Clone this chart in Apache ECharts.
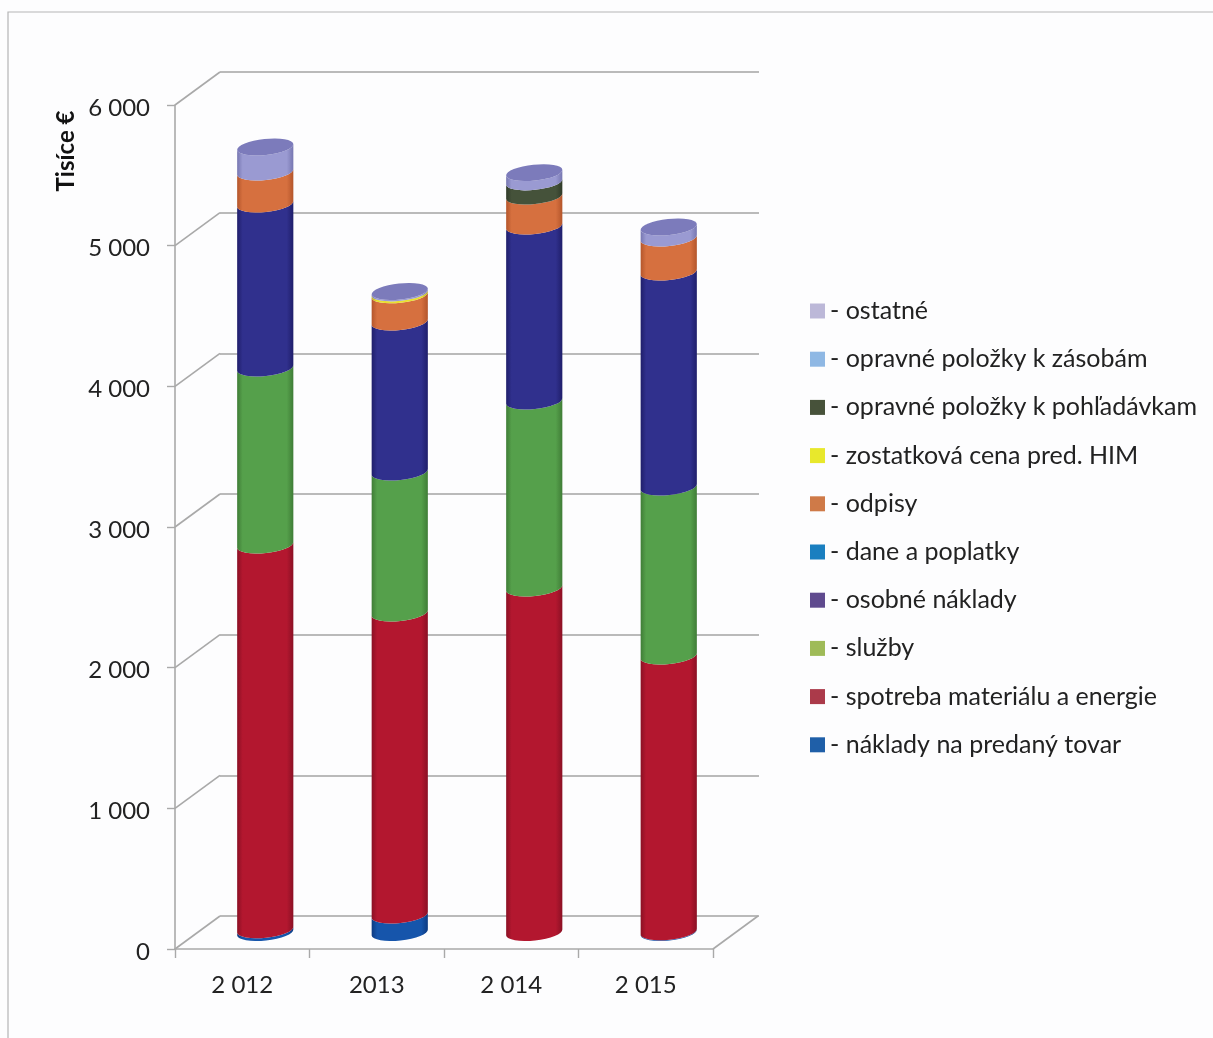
<!DOCTYPE html>
<html><head><meta charset="utf-8">
<style>html,body{margin:0;padding:0;background:#fdfdfe}#c{width:1213px;height:1038px}</style>
<script src="https://cdn.jsdelivr.net/npm/echarts@6/dist/echarts.min.js"></script>
</head><body><div id="c"></div>
<script>
// Data (thousand EUR)
const categories = ['2 012', '2013', '2 014', '2 015'];
const yTicks = [0, 1000, 2000, 3000, 4000, 5000, 6000];
const nakladyTovar = [20, 124, 0, 5];
const spotreba = [2735, 2147, 2449, 1961];
const sluzby = [1258, 1003, 1329, 1201];
const osobne = [1166, 1066, 1244, 1528];
const dane = [0, 0, 0, 0];
const odpisy = [227, 193, 213, 242];
const zostatkova = [0, 14, 0, 0];
const pohladavky = [0, 0, 101, 0];
const zasoby = [0, 0, 0, 0];
const ostatne = [178, 10, 66, 78];

const seriesNames = ['- náklady na predaný tovar', '- spotreba materiálu a energie', '- služby', '- osobné náklady', '- dane a poplatky', '- odpisy', '- zostatková cena pred. HIM', '- opravné položky k pohľadávkam', '- opravné položky k zásobám', '- ostatné'];
const seriesValues = [nakladyTovar, spotreba, sluzby, osobne, dane, odpisy, zostatkova, pohladavky, zasoby, ostatne];
const legendColors = ['#1f5fa8', '#ab3a4a', '#9fbb58', '#5f4a8e', '#1a7fc0', '#cf7a48', '#e8e82c', '#47523a', '#8fb8e4', '#bcb8d8'];
const barColors = ['#1655ab', '#b3172f', '#55a04b', '#30308d', '#1a7fc0', '#d6703f', '#e8e030', '#45523a', '#8fb8e4', '#9a9ad2'];
const barEdge = ['#0d3a80', '#8a1024', '#3f7c36', '#1f1e6a', '#115a90', '#b3552b', '#b8b020', '#2f3a28', '#6a90c0', '#7676b0'];
const capColor = '#7c7bbb';

const DEPTH_X = 45, DEPTH_Y = -33;
const BAR_RATIO = 0.42, RY = 8, TILT = 6 * Math.PI / 180;
const AXIS_COLOR = '#a9a9a9';
const FONT = 'Lato';

function stackTotals() {
  return categories.map((_, i) => seriesValues.reduce((s, arr) => s + arr[i], 0));
}
const totals = stackTotals();

function cylinderSeries(idx) {
  const vals = seriesValues[idx];
  const data = vals.map((v, i) => {
    let start = 0;
    for (let k = 0; k < idx; k++) start += seriesValues[k][i];
    return [i, start, start + v];
  });
  return {
    type: 'custom', name: seriesNames[idx], xAxisIndex: 0, yAxisIndex: 0,
    itemStyle: { color: legendColors[idx] },
    encode: { x: 0, y: [1, 2] }, data, z: 5, clip: false, silent: true,
    renderItem(params, api) {
      const i = api.value(0), a = api.value(1), b = api.value(2);
      if (b <= a) return;
      const band = api.size([1, 0])[0];
      const rx = band * BAR_RATIO / 2;
      const pa = api.coord([i, a]), pb = api.coord([i, b]);
      const cx = pa[0] + DEPTH_X / 2 + 0.5;
      const ya = pa[1] + DEPTH_Y / 2, yb = pb[1] + DEPTH_Y / 2;
      const dx = rx * Math.cos(TILT), dy = rx * Math.sin(TILT);
      const deg = -TILT * 180 / Math.PI;
      const d = `M${cx - dx} ${yb + dy} A${rx} ${RY} ${deg} 0 0 ${cx + dx} ${yb - dy} L${cx + dx} ${ya - dy} A${rx} ${RY} ${deg} 0 1 ${cx - dx} ${ya + dy} Z`;
      const children = [{
        type: 'path', shape: { pathData: d },
        style: {
          fill: { type: 'linear', x: 0, y: 0, x2: 1, y2: 0, colorStops: [
            { offset: 0, color: barEdge[idx] }, { offset: 0.1, color: barColors[idx] },
            { offset: 0.88, color: barColors[idx] }, { offset: 1, color: barEdge[idx] }] },
          stroke: null
        }
      }];
      if (Math.abs(b - totals[i]) < 0.001) {
        const cap = `M${cx - dx} ${yb + dy} A${rx} ${RY} ${deg} 0 0 ${cx + dx} ${yb - dy} A${rx} ${RY} ${deg} 0 0 ${cx - dx} ${yb + dy} Z`;
        children.push({ type: 'path', shape: { pathData: cap }, style: { fill: capColor, stroke: null } });
      }
      return { type: 'group', children };
    }
  };
}

// diagonal wall and floor lines, from the front axes to the back wall
const wallSeries = {
  type: 'custom', xAxisIndex: 0, yAxisIndex: 0, z: 2, clip: false, silent: true,
  data: yTicks.map(v => [0, v]), encode: { x: 0, y: 1 },
  renderItem(params, api) {
    const v = api.value(1);
    const band = api.size([1, 0])[0];
    const l = api.coord([0, v]);
    const x0 = l[0] - band / 2, y0 = l[1];
    const style = { stroke: AXIS_COLOR, lineWidth: 1.6, fill: null };
    const children = [{ type: 'line', shape: { x1: x0, y1: y0, x2: x0 + DEPTH_X, y2: y0 + DEPTH_Y }, style }];
    if (v === 0) {
      const x1 = api.coord([categories.length - 1, v])[0] + band / 2;
      children.push({ type: 'line', shape: { x1, y1: y0, x2: x1 + DEPTH_X, y2: y0 + DEPTH_Y }, style });
    }
    return { type: 'group', children };
  }
};

const chart = echarts.init(document.getElementById('c'), null, { renderer: 'canvas' });
chart.setOption({
  animation: false,
  backgroundColor: '#fdfdfe',
  textStyle: { fontFamily: FONT },
  grid: [
    { left: 175, top: 105, width: 538, height: 844 },
    { left: 220, top: 72, width: 539, height: 844 }
  ],
  xAxis: [
    { type: 'category', gridIndex: 0, data: categories, boundaryGap: true,
      axisLine: { lineStyle: { color: AXIS_COLOR, width: 1.6 } },
      axisTick: { show: true, length: 9, alignWithLabel: false, lineStyle: { color: AXIS_COLOR, width: 1.4 } },
      axisLabel: { color: '#222', fontSize: 24, margin: 24, fontFamily: FONT } },
    { type: 'value', gridIndex: 1, min: 0, max: 1, show: false }
  ],
  yAxis: [
    { type: 'value', gridIndex: 0, min: 0, max: 6000, interval: 1000,
      axisLine: { show: true, lineStyle: { color: AXIS_COLOR, width: 1.6 } },
      axisTick: { show: true, length: 8, lineStyle: { color: AXIS_COLOR, width: 1.4 } },
      splitLine: { show: false },
      axisLabel: { color: '#222', fontSize: 24, margin: 25, verticalAlign: 'top', lineHeight: 6, fontFamily: FONT,
        formatter: v => v === 0 ? '0' : String(v).replace(/(\d)(\d{3})$/, '$1 $2') } },
    { type: 'value', gridIndex: 1, min: 0, max: 6000, interval: 1000,
      axisLine: { show: false }, axisTick: { show: false }, axisLabel: { show: false },
      splitLine: { show: true, lineStyle: { color: '#a3a3a3', width: 1.6 } } }
  ],
  legend: {
    orient: 'vertical', left: 805, top: 291, icon: 'rect', itemWidth: 15, itemHeight: 15,
    itemGap: 18.2, selectedMode: false,
    data: seriesNames.slice().reverse(),
    textStyle: { color: '#222', fontSize: 25, lineHeight: 30, fontFamily: FONT }
  },
  graphic: [
    { type: 'polyline', silent: true, shape: { points: [[8, 1038], [8, 12], [1213, 12]] },
      style: { stroke: '#b5b5b5', lineWidth: 1.2, fill: null } },
    { type: 'text', silent: true, x: 66, y: 151, rotation: Math.PI / 2,
      style: { text: 'Tisíce €', font: 'bold 24px ' + FONT, fill: '#111', align: 'center', verticalAlign: 'middle' } }
  ],
  series: [wallSeries].concat(seriesValues.map((_, i) => cylinderSeries(i)))
});
</script></body></html>
